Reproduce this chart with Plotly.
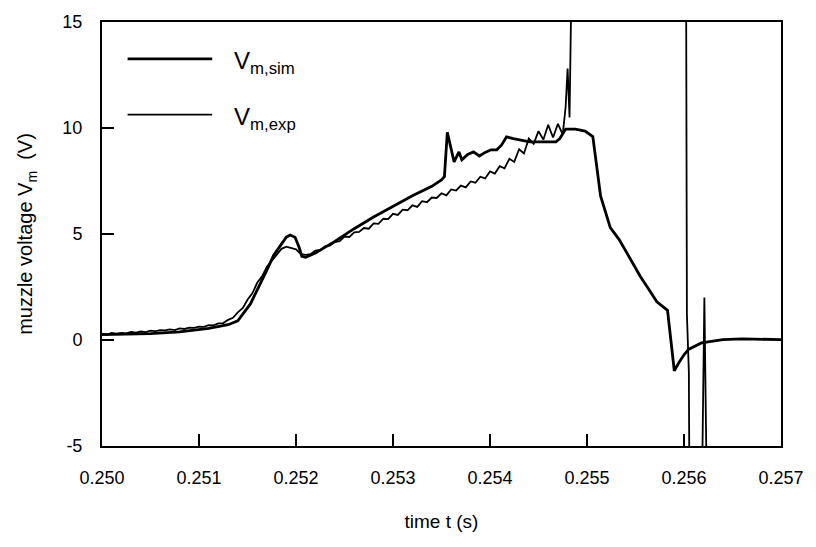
import plotly.graph_objects as go

# ---- data ----
sim_t = [0.25000, 0.25050, 0.25080, 0.25110, 0.25130, 0.25140, 0.25153, 0.25163, 0.25170,
         0.25177, 0.25185, 0.25190, 0.25194, 0.25199, 0.25203, 0.25206, 0.25210, 0.25220,
         0.25240, 0.25260, 0.25280, 0.25300, 0.25320, 0.25340, 0.25350, 0.25353, 0.25356,
         0.25359, 0.25363, 0.25368, 0.25371, 0.25377, 0.25383, 0.25389, 0.25395, 0.25401,
         0.25407, 0.25412, 0.25417, 0.25424, 0.25431, 0.25441, 0.25455, 0.25468, 0.25472,
         0.25478, 0.25488, 0.25498, 0.25506, 0.25509, 0.25514, 0.25524, 0.25533, 0.25545,
         0.25555, 0.25565, 0.25572, 0.25583, 0.25590, 0.25595, 0.25600, 0.25605, 0.25618,
         0.25640, 0.25660, 0.25700]
sim_v = [0.25, 0.30, 0.38, 0.55, 0.72, 0.90, 1.70, 2.60, 3.30,
         4.00, 4.55, 4.85, 4.95, 4.85, 4.40, 3.95, 3.90, 4.10,
         4.65, 5.25, 5.80, 6.30, 6.80, 7.25, 7.55, 7.70, 9.80,
         9.20, 8.40, 8.87, 8.50, 8.75, 8.87, 8.68, 8.85, 8.97,
         8.97, 9.20, 9.58, 9.50, 9.44, 9.35, 9.35, 9.35, 9.50,
         9.95, 9.95, 9.85, 9.60, 8.60, 6.80, 5.30, 4.75, 3.80,
         3.00, 2.30, 1.80, 1.40, -1.45, -1.05, -0.70, -0.43, -0.14,
         0.02, 0.05, 0.02]

exp_t = [0.25000, 0.25005, 0.25010, 0.25015, 0.25020, 0.25025, 0.25030, 0.25035, 0.25040,
         0.25045, 0.25050, 0.25055, 0.25060, 0.25065, 0.25070, 0.25075, 0.25080, 0.25085,
         0.25090, 0.25095, 0.25100, 0.25105, 0.25110, 0.25115, 0.25120, 0.25125, 0.25130,
         0.25135, 0.25140, 0.25145, 0.25150, 0.25155, 0.25160, 0.25165, 0.25170, 0.25175,
         0.25180, 0.25185, 0.25190, 0.25195, 0.25200, 0.25205, 0.25210, 0.25215, 0.25220,
         0.25225, 0.25230, 0.25235, 0.25240, 0.25245, 0.25250, 0.25255, 0.25260, 0.25265,
         0.25270, 0.25275, 0.25280, 0.25285, 0.25290, 0.25295, 0.25300, 0.25305, 0.25310,
         0.25315, 0.25320, 0.25325, 0.25330, 0.25335, 0.25340, 0.25345, 0.25350, 0.25355,
         0.25360, 0.25365, 0.25370, 0.25375, 0.25380, 0.25385, 0.25390, 0.25395, 0.25400,
         0.25405, 0.25410, 0.25415, 0.25420, 0.25425, 0.25430, 0.25435, 0.25440, 0.25445,
         0.25450, 0.25455, 0.25460, 0.25465, 0.25470, 0.25475, 0.25478, 0.25480, 0.25482,
         0.25485, 0.25602, 0.25603, 0.25605, 0.25607, 0.25615, 0.25621, 0.25627, 0.25700]
exp_v = [0.30, 0.26, 0.33, 0.30, 0.34, 0.31, 0.38, 0.35, 0.40,
         0.37, 0.44, 0.42, 0.46, 0.45, 0.50, 0.47, 0.55, 0.52,
         0.58, 0.57, 0.63, 0.62, 0.70, 0.69, 0.78, 0.80, 0.95,
         1.05, 1.30, 1.50, 1.90, 2.20, 2.70, 3.00, 3.45, 3.75,
         4.05, 4.30, 4.40, 4.35, 4.28, 4.05, 4.02, 4.05, 4.22,
         4.25, 4.42, 4.45, 4.62, 4.66, 4.88, 4.86, 5.08, 5.10,
         5.28, 5.25, 5.50, 5.48, 5.72, 5.70, 5.95, 5.90, 6.15,
         6.12, 6.35, 6.28, 6.55, 6.50, 6.72, 6.70, 6.92, 6.82,
         7.10, 7.05, 7.28, 7.20, 7.48, 7.42, 7.70, 7.62, 7.95,
         7.85, 8.20, 8.10, 8.55, 8.40, 9.00, 8.80, 9.50, 9.25,
         9.85, 9.45, 10.15, 9.55, 10.20, 9.70, 11.00, 12.80, 10.50,
         20.00, 20.00, 1.20, -1.50, -20.00, -20.00, 2.00, -20.00, -20.00]

x_ticks = [0.250, 0.251, 0.252, 0.253, 0.254, 0.255, 0.256, 0.257]
x_labels = ["0.250", "0.251", "0.252", "0.253", "0.254", "0.255", "0.256", "0.257"]
y_ticks = [-5, 0, 5, 10, 15]
y_labels = ["-5", "0", "5", "10", "15"]

FONT = "Liberation Sans, Arial, Helvetica, sans-serif"

fig = go.Figure()
fig.add_trace(go.Scatter(x=sim_t, y=sim_v, mode="lines", name="V m,sim",
                         line=dict(color="black", width=2.8), showlegend=False))
fig.add_trace(go.Scatter(x=exp_t, y=exp_v, mode="lines", name="V m,exp",
                         line=dict(color="black", width=1.8), showlegend=False))

# legend drawn manually (long line samples)
L, R, T, B = 102, 792, 20, 446
W, H = R - L, B - T
def px(x):
    return (x - L) / W
def py(y):
    return (B - y) / H

for ly, wdt, label in [(57, 2.8, "V<sub>m,sim</sub>"), (113, 1.8, "V<sub>m,exp</sub>")]:
    fig.add_shape(type="line", xref="paper", yref="paper",
                  x0=px(128), x1=px(214), y0=py(ly), y1=py(ly),
                  line=dict(color="black", width=wdt))
    fig.add_annotation(xref="paper", yref="paper", x=px(234), y=py(ly + 4),
                       xanchor="left", yanchor="middle", showarrow=False,
                       text=label, font=dict(family=FONT, size=24, color="black"))

axis_common = dict(showline=True, linecolor="black", linewidth=2, mirror=True,
                   ticks="inside", ticklen=12, tickwidth=2, tickcolor="black",
                   showgrid=False, zeroline=False,
                   tickfont=dict(family=FONT, size=18, color="black"))

fig.update_xaxes(range=[0.250, 0.257], tickvals=x_ticks, ticktext=x_labels,
                 ticklabelstandoff=14,
                 title=dict(text="time t (s)", font=dict(family=FONT, size=19, color="black"),
                            standoff=28),
                 **axis_common)
fig.update_yaxes(range=[-5, 15], tickvals=y_ticks, ticktext=y_labels,
                 ticklabelstandoff=14,
                 title=dict(text="muzzle voltage V<sub>m</sub>  (V)",
                            font=dict(family=FONT, size=20, color="black"), standoff=24),
                 **axis_common)

fig.update_layout(width=816, height=547, margin=dict(l=L, r=816 - R, t=T, b=547 - B),
                  paper_bgcolor="white", plot_bgcolor="white")

fig.write_html("out.html")
